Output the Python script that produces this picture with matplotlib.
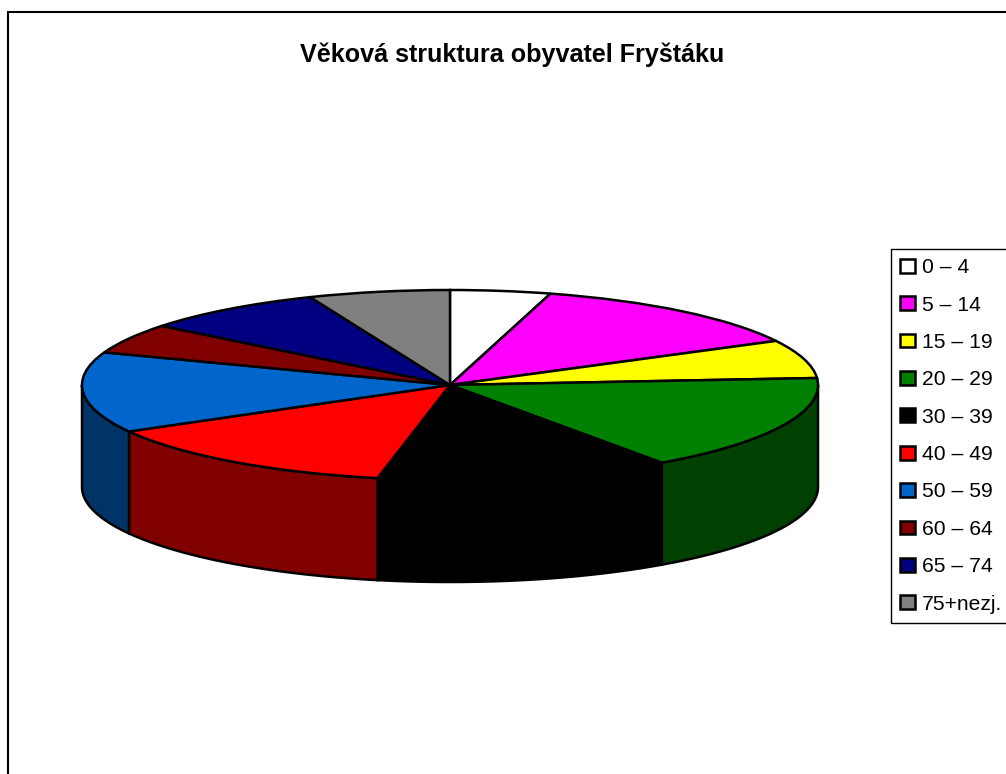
import numpy as np
import matplotlib
matplotlib.use('Agg')
from matplotlib import pyplot as plt
from matplotlib.patches import Polygon, Rectangle

plt.rcParams['font.family'] = ['Liberation Sans', 'DejaVu Sans']

title = 'Věková struktura obyvatel Fryštáku'
labels = ['0 – 4', '5 – 14', '15 – 19', '20 – 29', '30 – 39',
          '40 – 49', '50 – 59', '60 – 64', '65 – 74', '75+nezj.']
# podily v procentech, odhad z obrazku
values = [4.4, 12.9, 6.5, 16.4, 12.9, 13.7, 13.7, 5.1, 8.1, 6.2]
colors = ['#FFFFFF', '#FF00FF', '#FFFF00', '#008000', '#000000',
          '#FF0000', '#0066CC', '#800000', '#000080', '#808080']
side_colors = ['#808080', '#800080', '#808000', '#004000', '#000000',
               '#800000', '#003366', '#400000', '#000040', '#404040']

W, H = 1006, 774
cx, cy, rx, ry = 450, 385, 368, 95
depth = 102 / ry  # vyska valce v jednotkach ry

fig = plt.figure(figsize=(W / 100, H / 100), dpi=100)
ax = fig.add_axes([0, 0, 1, 1])

wedges, _ = ax.pie(values, colors=colors, startangle=90, counterclock=False,
                   wedgeprops={'edgecolor': 'black', 'linewidth': 1.8, 'zorder': 3})
ax.set_aspect('auto')
ax.set_xlim(-cx / rx, (W - cx) / rx)
ax.set_ylim((cy - H) / ry, cy / ry)

# plast valce, jen predni polovina
edges = np.cumsum([0] + values) / sum(values) * 2 * np.pi
for i in range(len(values)):
    a = max(edges[i], np.pi / 2)
    b = min(edges[i + 1], 3 * np.pi / 2)
    if a >= b:
        continue
    t = np.linspace(a, b, 80)
    x, y = np.sin(t), np.cos(t)
    pts = np.r_[np.c_[x, y], np.c_[x, y - depth][::-1]]
    ax.add_patch(Polygon(pts, closed=True, facecolor=side_colors[i],
                         edgecolor='black', linewidth=1.8, zorder=2))

# ramecek grafu, doprava a dolu je oriznuty
fig.add_artist(Rectangle((8 / W, -0.05), 1.1, 1.05 - 11.5 / H, transform=fig.transFigure,
                         facecolor='none', edgecolor='black', linewidth=1.5))

fig.text(512.5 / W, 1 - 55 / H, title, ha='center', va='center',
         fontsize=18.1, fontweight='bold')

ax.legend(wedges, labels, loc='upper left',
          bbox_to_anchor=(891 / W, 1 - 249 / H), bbox_transform=fig.transFigure,
          fontsize=15.2, frameon=True, fancybox=False, framealpha=1, edgecolor='black',
          borderpad=0.44, labelspacing=0.87, handlelength=0.72, handleheight=0.62,
          handletextpad=0.29, borderaxespad=0)

fig.savefig('out.png', dpi=100)
